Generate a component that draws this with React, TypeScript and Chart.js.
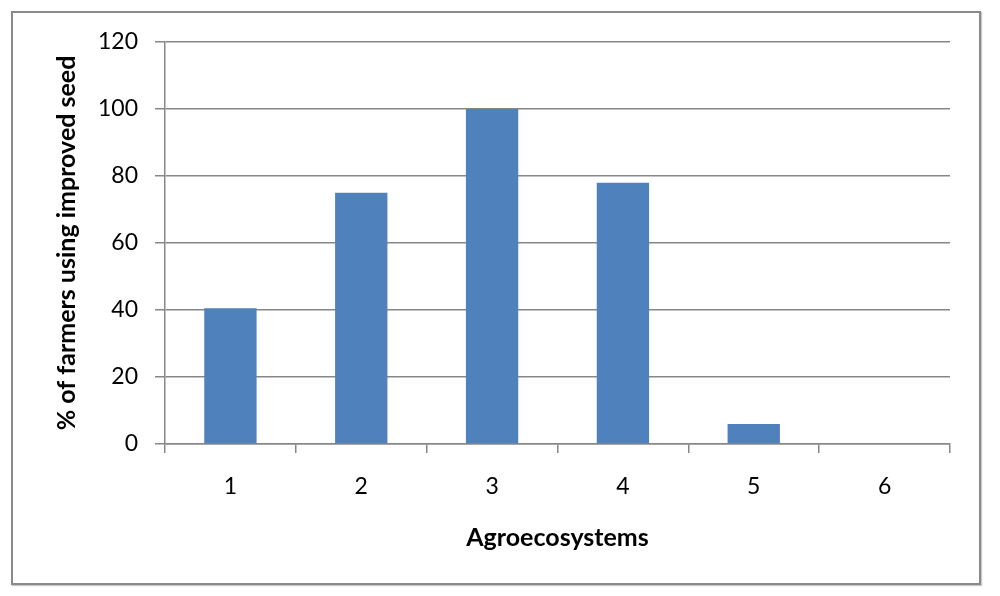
import React, { useEffect, useRef } from "react";
import { Chart, registerables } from "chart.js";

Chart.register(...registerables);

const categories = ["1", "2", "3", "4", "5", "6"];
const values = [40.5, 75, 100, 78, 6, 0];
const yTitle = "% of farmers using improved seed";
const xTitle = "Agroecosystems";

const FONT = "Lato, 'Open Sans', sans-serif";
const GRID = "#878787";

export default function App() {
  const ref = useRef<HTMLCanvasElement | null>(null);

  useEffect(() => {
    document.body.style.margin = "0";
    const ctx = ref.current!.getContext("2d")!;
    const chart = new Chart(ctx, {
      type: "bar",
      data: {
        labels: categories,
        datasets: [
          {
            data: values,
            backgroundColor: "#4F81BD",
            borderWidth: 0,
            barPercentage: 0.4,
            categoryPercentage: 1.0,
          },
        ],
      },
      options: {
        animation: false,
        responsive: false,
        maintainAspectRatio: false,
        layout: { padding: { top: 42, right: 50, left: 0, bottom: 0 } },
        plugins: {
          legend: { display: false },
          tooltip: { enabled: false },
        },
        scales: {
          x: {
            afterFit: (s: any) => {
              s.height = 152;
            },
            grid: {
              display: true,
              drawOnChartArea: false,
              drawTicks: true,
              tickLength: 9,
              color: GRID,
              lineWidth: 1.5,
            },
            border: { display: true, color: GRID, width: 1.5 },
            ticks: {
              color: "#000",
              padding: 20,
              font: { family: FONT, size: 23 },
            },
            title: {
              display: true,
              text: xTitle,
              color: "#000",
              font: { family: FONT, size: 25, weight: "bold", lineHeight: 1.2 },
              padding: { top: 0, bottom: 43 },
            },
          },
          y: {
            min: 0,
            max: 120,
            afterFit: (s: any) => {
              s.width = 165;
            },
            grid: {
              color: GRID,
              lineWidth: 1.5,
              tickLength: 10,
              drawTicks: true,
            },
            border: { display: true, color: GRID, width: 1.5 },
            ticks: {
              stepSize: 20,
              color: "#000",
              padding: 17,
              font: { family: FONT, size: 23 },
            },
            title: {
              display: true,
              text: yTitle,
              color: "#000",
              font: { family: FONT, size: 25, weight: "bold", lineHeight: 1.2 },
              padding: { top: 52, bottom: 0 },
            },
          },
        },
      },
    });
    return () => chart.destroy();
  }, []);

  return (
    <div style={{ position: "relative", width: 1000, height: 596 }}>
      <div
        style={{
          position: "absolute",
          left: 11,
          top: 11,
          width: 966,
          height: 570,
          border: "2px solid #8a8a8a",
          boxShadow: "1px 1px 1px #c8c8c8",
        }}
      />
      <canvas
        ref={ref}
        width={1000}
        height={596}
        style={{ position: "absolute", left: 0, top: 0 }}
      />
    </div>
  );
}
